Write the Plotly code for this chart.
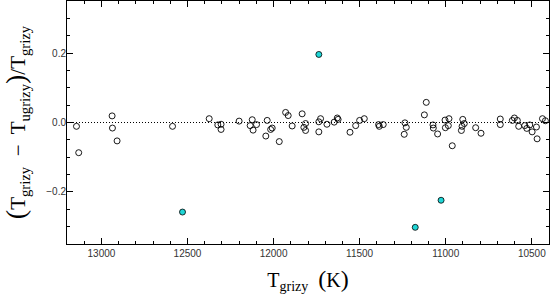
import plotly.graph_objects as go

# Open-circle stars: T_grizy (K) and fractional difference
t_open = [13145, 13132, 12938, 12936, 12909, 12587, 12374, 12324, 12305, 12305,
          12200, 12136, 12124, 12119, 12099, 12045, 12037, 12017, 12008, 11967,
          11930, 11915, 11892, 11834, 11824, 11814, 11814, 11737, 11737, 11727,
          11690, 11648, 11630, 11625, 11556, 11523, 11500, 11473, 11390, 11386,
          11363, 11237, 11229, 11241, 11124, 11113, 11074, 11072, 11047, 11004,
          10981, 11002, 10985, 10962, 10901, 10892, 10905, 10909, 10826, 10795,
          10683, 10683, 10613, 10601, 10584, 10576, 10541, 10529, 10512, 10498,
          10473, 10469, 10438, 10421]
d_open = [-0.011, -0.087, 0.019, -0.016, -0.053, -0.011, 0.011, -0.007, -0.005, -0.020,
          0.004, -0.009, 0.008, -0.022, -0.006, -0.039, 0.006, -0.020, -0.016, -0.055,
          0.029, 0.020, -0.010, 0.025, -0.014, -0.003, -0.023, -0.027, 0.002, 0.011,
          -0.005, 0.001, 0.013, 0.009, -0.028, -0.009, 0.006, 0.011, -0.006, -0.011,
          -0.006, -0.001, -0.014, -0.034, 0.022, 0.058, -0.007, -0.016, -0.033, 0.007,
          0.011, -0.015, -0.009, -0.067, 0.009, -0.003, -0.011, -0.023, -0.015, -0.031,
          0.010, -0.006, 0.006, 0.013, 0.006, -0.011, -0.009, -0.017, -0.007, -0.027,
          -0.013, -0.047, 0.011, 0.005]

# Outliers (filled cyan)
t_out = [11737, 12529, 11027, 11177]
d_out = [0.196, -0.258, -0.224, -0.302]

x_range = [13200, 10400]
y_range = [-0.35, 0.35]

fig = go.Figure()
fig.add_trace(go.Scatter(
    x=x_range, y=[0, 0], mode="lines",
    line=dict(color="black", width=1, dash="1px,2px"),
    hoverinfo="skip", showlegend=False))
fig.add_trace(go.Scatter(
    x=t_open, y=d_open, mode="markers",
    marker=dict(symbol="circle-open", size=6, color="black", line=dict(width=0.9)),
    showlegend=False))
fig.add_trace(go.Scatter(
    x=t_out, y=d_out, mode="markers",
    marker=dict(symbol="circle", size=6, color="#1fd6d6", line=dict(color="black", width=0.8)),
    showlegend=False))

serif = "Liberation Serif, Times New Roman, serif"
sans = "Liberation Sans, Arial, sans-serif"

ytitle = ('<span style="font-size:28px">(</span>T<sub>grizy</sub>  \u2212  T<sub>ugrizy</sub>'
          '<span style="font-size:28px">)</span>/T<sub>grizy</sub>')

fig.update_layout(
    width=550, height=301,
    margin=dict(l=67, r=1, t=1, b=57),
    plot_bgcolor="white", paper_bgcolor="white",
    xaxis=dict(
        range=x_range, showgrid=False, zeroline=False, automargin=False,
        showline=True, linecolor="black", linewidth=1, mirror="ticks",
        ticks="inside", ticklen=6, tickcolor="black", tickwidth=1,
        tick0=10000, dtick=500, tickformat="d",
        minor=dict(ticks="inside", ticklen=3, dtick=100, tick0=10000, tickcolor="black"),
        tickfont=dict(family=sans, size=10, color="#333"),
        title=dict(text='T<sub>grizy</sub>  <span style="font-size:24px">(</span>K<span style="font-size:24px">)</span>',
                   font=dict(family=serif, size=20, color="black"), standoff=14),
    ),
    yaxis=dict(
        range=y_range, showgrid=False, zeroline=False, automargin=False,
        showline=True, linecolor="black", linewidth=1, mirror="ticks",
        ticks="inside", ticklen=6, tickcolor="black", tickwidth=1,
        tick0=0, dtick=0.2, tickformat=".1f", ticklabelstandoff=-2,
        minor=dict(ticks="inside", ticklen=3, dtick=0.05, tick0=0, tickcolor="black"),
        tickfont=dict(family=sans, size=10, color="#333"),
        title=dict(text=ytitle, font=dict(family=serif, size=21, color="black"), standoff=14),
    ),
)

fig.write_html("out.html", post_script="document.body.style.margin='0';",
               config={"displayModeBar": False})
